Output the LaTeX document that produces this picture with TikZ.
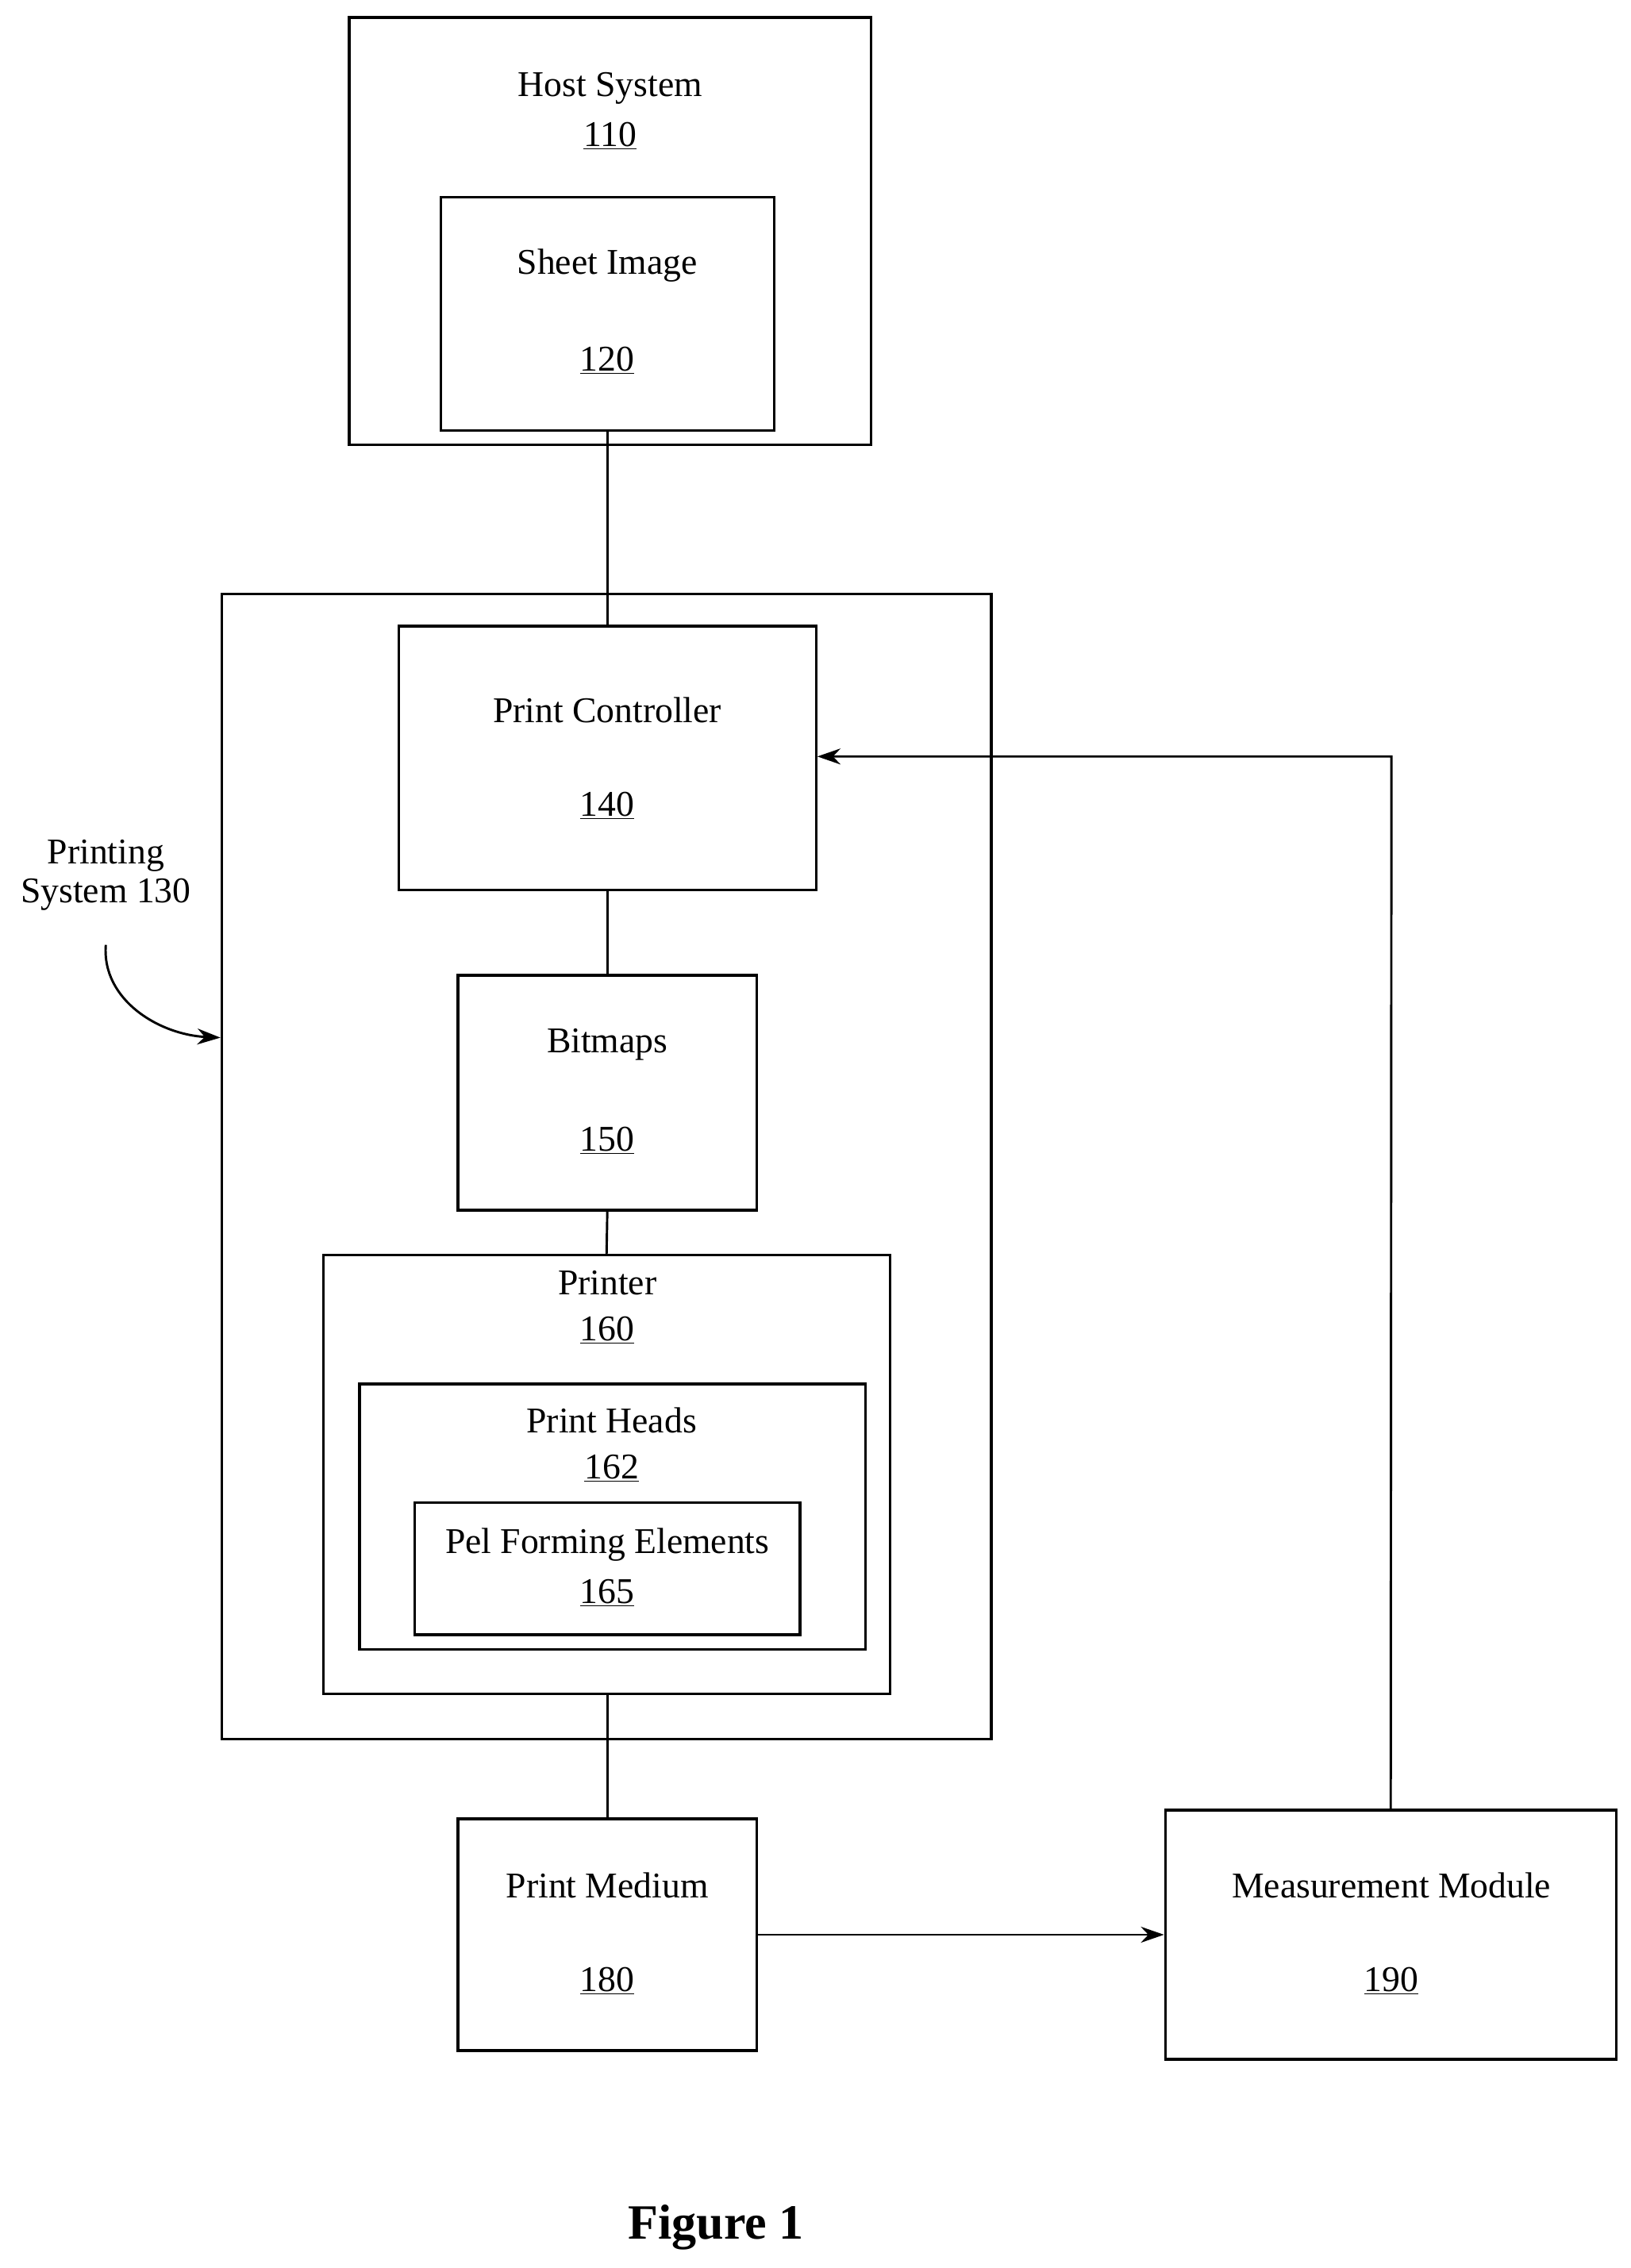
\documentclass[tikz,border=0pt]{standalone}
\usepackage{fontspec}
\setmainfont{Liberation Serif}
\usetikzlibrary{arrows.meta}
\begin{document}
\begin{tikzpicture}[x=1pt,y=-1pt,
  box/.style={draw,line width=1.8pt,inner sep=0pt},
  lbl/.style={inner sep=0pt,font=\fontsize{25}{30}\selectfont,align=center},
  ln/.style={line width=1.6pt},
  arr/.style={line width=1.6pt,-{Stealth[length=16pt,width=11pt]}}]
\useasboundingbox (0,0) rectangle (1125,1565);
\newcommand\bx[5]{\node[box,minimum width={#4-#2},minimum height={#5-#3}] (#1) at ({(#2+#4)/2},{(#3+#5)/2}) {};}
\bx{hs}{241}{12}{601}{307}
\bx{si}{304}{136}{534}{297}
\bx{ps}{153}{410}{684}{1200}
\bx{pc}{275}{432}{563}{614}
\bx{bm}{316}{673}{522}{835}
\bx{pr}{223}{866}{614}{1169}
\bx{ph}{248}{955}{597}{1138}
\bx{pe}{286}{1037}{552}{1128}
\bx{pm}{316}{1255}{522}{1415}
\bx{mm}{804}{1249}{1115}{1421}
\node[lbl] (t1) at (421,61) {Host System};
\node[lbl] (n1) at (421,94) {\underline{110}};
\node[lbl] (t2) at (419,183) {Sheet Image};
\node[lbl] (n2) at (419,249) {\underline{120}};
\node[lbl] (t3) at (419,490) {Print Controller};
\node[lbl] (n3) at (419,556) {\underline{140}};
\node[lbl] (t4) at (419,721) {Bitmaps};
\node[lbl] (n4) at (419,787) {\underline{150}};
\node[lbl] (t5) at (419,885) {Printer};
\node[lbl] (n5) at (419,918) {\underline{160}};
\node[lbl] (t6) at (422,980) {Print Heads};
\node[lbl] (n6) at (422,1013) {\underline{162}};
\node[lbl] (t7) at (419,1066) {Pel Forming Elements};
\node[lbl] (n7) at (419,1099) {\underline{165}};
\node[lbl] (t8) at (419,1301) {Print Medium};
\node[lbl] (n8) at (419,1367) {\underline{180}};
\node[lbl] (t9) at (960,1301) {Measurement Module};
\node[lbl] (n9) at (960,1367) {\underline{190}};
\node[lbl] (psl) at (73,604) {Printing\\[-3pt]System 130};
\node[inner sep=0pt,font=\fontsize{34}{40}\selectfont\bfseries] (fig) at (494,1537) {Figure 1};
\draw[ln] (si.south) -- (pc.north);
\draw[ln] (pc.south) -- (bm.north);
\draw[ln] (bm.south) -- (pr.north);
\draw[ln] (pr.south -| pm.north) -- (pm.north);
\draw[arr] (pm.east |- 0,1335) -- (mm.west |- 0,1335);
\draw[arr] (mm.north) -- (960,522) -- (pc.east |- 0,522);
\coordinate (cs) at (73,652);
\draw[arr] (cs) .. controls (70,690) and (110,714) .. (ps.west |- 0,716);
\end{tikzpicture}
\end{document}
